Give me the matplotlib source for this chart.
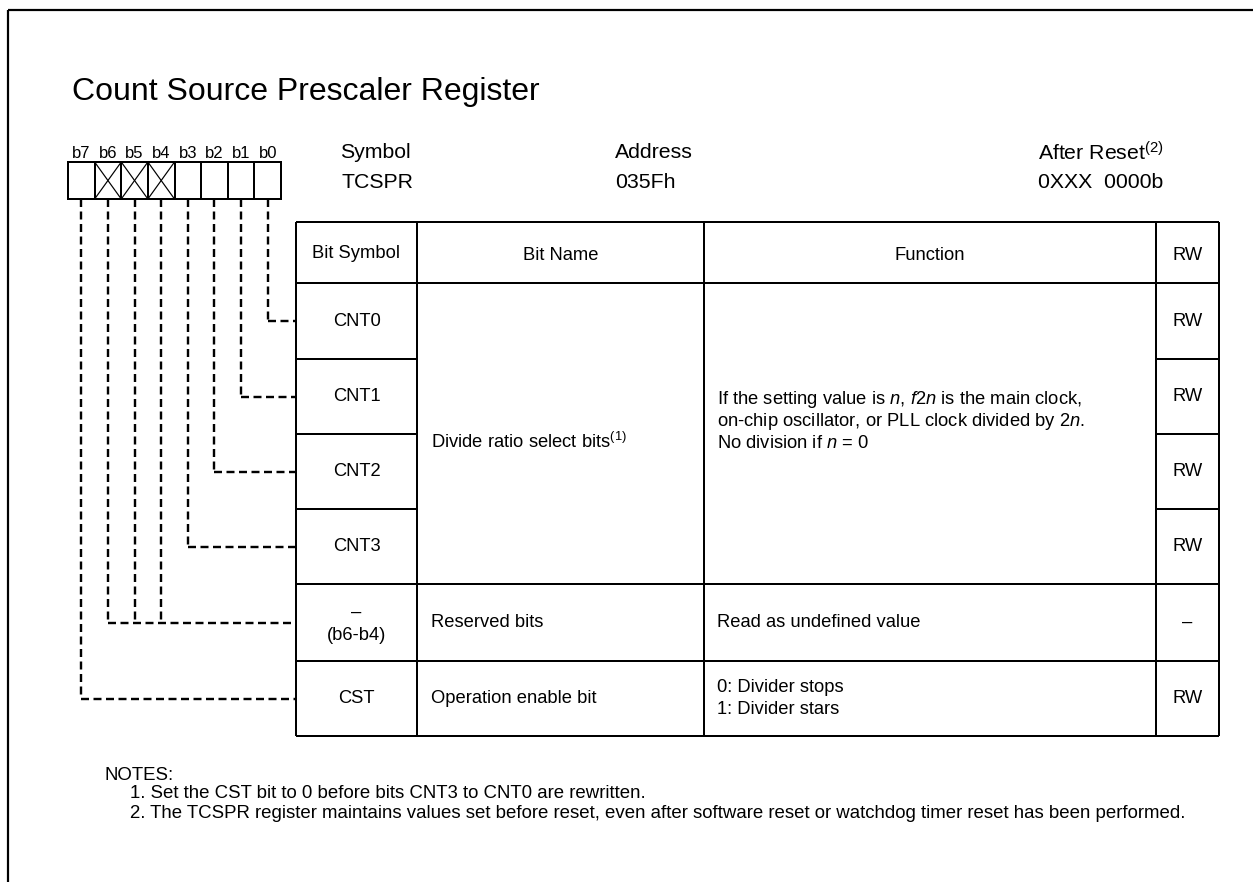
import matplotlib
matplotlib.use("Agg")
import matplotlib.pyplot as plt
from matplotlib.lines import Line2D
from matplotlib.patches import Rectangle

plt.rcParams['font.family'] = ['Liberation Sans', 'DejaVu Sans']
plt.rcParams['mathtext.fontset'] = 'custom'
plt.rcParams['mathtext.rm'] = 'Liberation Sans'
plt.rcParams['mathtext.it'] = 'Liberation Sans:italic'
plt.rcParams['mathtext.bf'] = 'Liberation Sans:bold'
plt.rcParams['lines.scale_dashes'] = False

# ---------------- data ----------------
title = "Count Source Prescaler Register"
bit_labels = ["b7", "b6", "b5", "b4", "b3", "b2", "b1", "b0"]
reserved_bits = ["b6", "b5", "b4"]
header_labels = ["Symbol", "Address", "After Reset$^{(2)}$"]
header_values = ["TCSPR", "035Fh", "0XXX  0000b"]
col_headers = ["Bit Symbol", "Bit Name", "Function", "RW"]
row_symbols = ["CNT0", "CNT1", "CNT2", "CNT3", "–", "CST"]
row_bits = [["b0"], ["b1"], ["b2"], ["b3"], ["b6", "b5", "b4"], ["b7"]]
row_rw = ["RW", "RW", "RW", "RW", "–", "RW"]
reserved_sub = "(b6-b4)"
name_divide = "Divide ratio select bits$^{(1)}$"
func_divide = ["If the setting value is $n$, $\\mathit{f2n}$ is the main clock,",
               "on-chip oscillator, or PLL clock divided by $\\mathit{2n}$.",
               "No division if $n$ = 0"]
name_reserved = "Reserved bits"
func_reserved = "Read as undefined value"
name_cst = "Operation enable bit"
func_cst = ["0: Divider stops", "1: Divider stars"]
notes_title = "NOTES:"
notes = ["1. Set the CST bit to 0 before bits CNT3 to CNT0 are rewritten.",
         "2. The TCSPR register maintains values set before reset, even after software reset or watchdog timer reset has been performed."]

# ---------------- layout (pixel space) ----------------
W, H = 1253, 882
fig = plt.figure(figsize=(W / 100, H / 100), dpi=100)
ax = fig.add_axes([0, 0, 1, 1])
ax.set_xlim(0, W)
ax.set_ylim(H, 0)
ax.axis('off')

K = 'black'
px = 0.72  # points per pixel
FS_T = 13.2   # table text
FS_H = 15.3   # header info text
FS_N = 13.4   # notes

def line(x0, y0, x1, y1, lw=2.0, dashed=False):
    ls = (0, (8 * px, 4.5 * px)) if dashed else '-'
    ax.add_line(Line2D([x0, x1], [y0, y1], color=K, lw=lw * px, ls=ls,
                       solid_capstyle='butt', dash_capstyle='butt'))

# outer frame (left and top only)
line(8, 10, 8, H, lw=2.2)
line(8, 10, W, 10, lw=2.2)

ax.text(72, 100, title, fontsize=23, va='baseline', ha='left')

# bit boxes
bx0, bx1, by0, by1 = 68, 281, 162, 199
cw = (bx1 - bx0) / len(bit_labels)
centers = {}
for i, b in enumerate(bit_labels):
    x = bx0 + i * cw
    centers[b] = x + cw / 2
    ax.add_patch(Rectangle((x, by0), cw, by1 - by0, fill=False, ec=K, lw=2.0 * px))
    ax.text(x + cw / 2, 153, b, fontsize=12, ha='center', va='center')
    if b in reserved_bits:
        line(x, by0, x + cw, by1, lw=1.2)
        line(x, by1, x + cw, by0, lw=1.2)

# header information
hdr_x = [340, 615, 1038]
for lab, val, x in zip(header_labels, header_values, hdr_x):
    ax.text(x, 153, lab, fontsize=FS_H, ha='left', va='center')
    ax.text(x + (2 if val == "TCSPR" else 0), 182, val, fontsize=FS_H, ha='left', va='center')

# table
cols = [296, 417, 704, 1156, 1219]
rows = [222, 283, 359, 434, 509, 584, 661, 736]
tlw = 2.0
line(cols[0], rows[0], cols[-1], rows[0], tlw)
line(cols[0], rows[1], cols[-1], rows[1], tlw)
for r in rows[2:5]:
    line(cols[0], r, cols[1], r, tlw)
    line(cols[3], r, cols[4], r, tlw)
for r in rows[5:]:
    line(cols[0], r, cols[-1], r, tlw)
for c in cols:
    line(c, rows[0], c, rows[-1], tlw)

hdr_y = [253, 256, 255, 256]
for i, h in enumerate(col_headers):
    ax.text((cols[i] + cols[i + 1]) / 2, hdr_y[i], h, fontsize=FS_T, ha='center', va='center')

row_c = [(rows[i + 1] + rows[i + 2]) / 2 for i in range(len(row_symbols))]
sym_c = (cols[0] + cols[1]) / 2
rw_c = (cols[3] + cols[4]) / 2
for i, (s, rw) in enumerate(zip(row_symbols, row_rw)):
    if s == "–":
        ax.text(sym_c, row_c[i] - 10, s, fontsize=FS_T, ha='center', va='center')
        ax.text(sym_c, row_c[i] + 13, reserved_sub, fontsize=FS_T, ha='center', va='center')
    else:
        ax.text(sym_c, row_c[i], s, fontsize=FS_T, ha='center', va='center')
    ax.text(rw_c, row_c[i], rw, fontsize=FS_T, ha='center', va='center')

ax.text(431, 442, name_divide, fontsize=FS_T, ha='left', va='center')
for j, t in enumerate(func_divide):
    ax.text(717, 400 + 22 * j, t, fontsize=FS_T, ha='left', va='center')
ax.text(431, row_c[4], name_reserved, fontsize=FS_T, ha='left', va='center')
ax.text(717, row_c[4], func_reserved, fontsize=FS_T, ha='left', va='center')
ax.text(431, row_c[5], name_cst, fontsize=FS_T, ha='left', va='center')
for j, t in enumerate(func_cst):
    ax.text(717, 688 + 21 * j, t, fontsize=FS_T, ha='left', va='center')

# dashed connectors from bits to rows
for i, bits in enumerate(row_bits):
    yc = row_c[i]
    xs = [centers[b] for b in bits]
    for x in xs:
        line(x, by1, x, yc, lw=2.4, dashed=True)
    line(min(xs), yc, cols[0], yc, lw=2.4, dashed=True)

# notes
ax.text(105, 775, notes_title, fontsize=FS_N, ha='left', va='center')
for j, n in enumerate(notes):
    ax.text(130, 794 + 19 * j, n, fontsize=FS_N, ha='left', va='center')

fig.savefig("out.png", dpi=100)
